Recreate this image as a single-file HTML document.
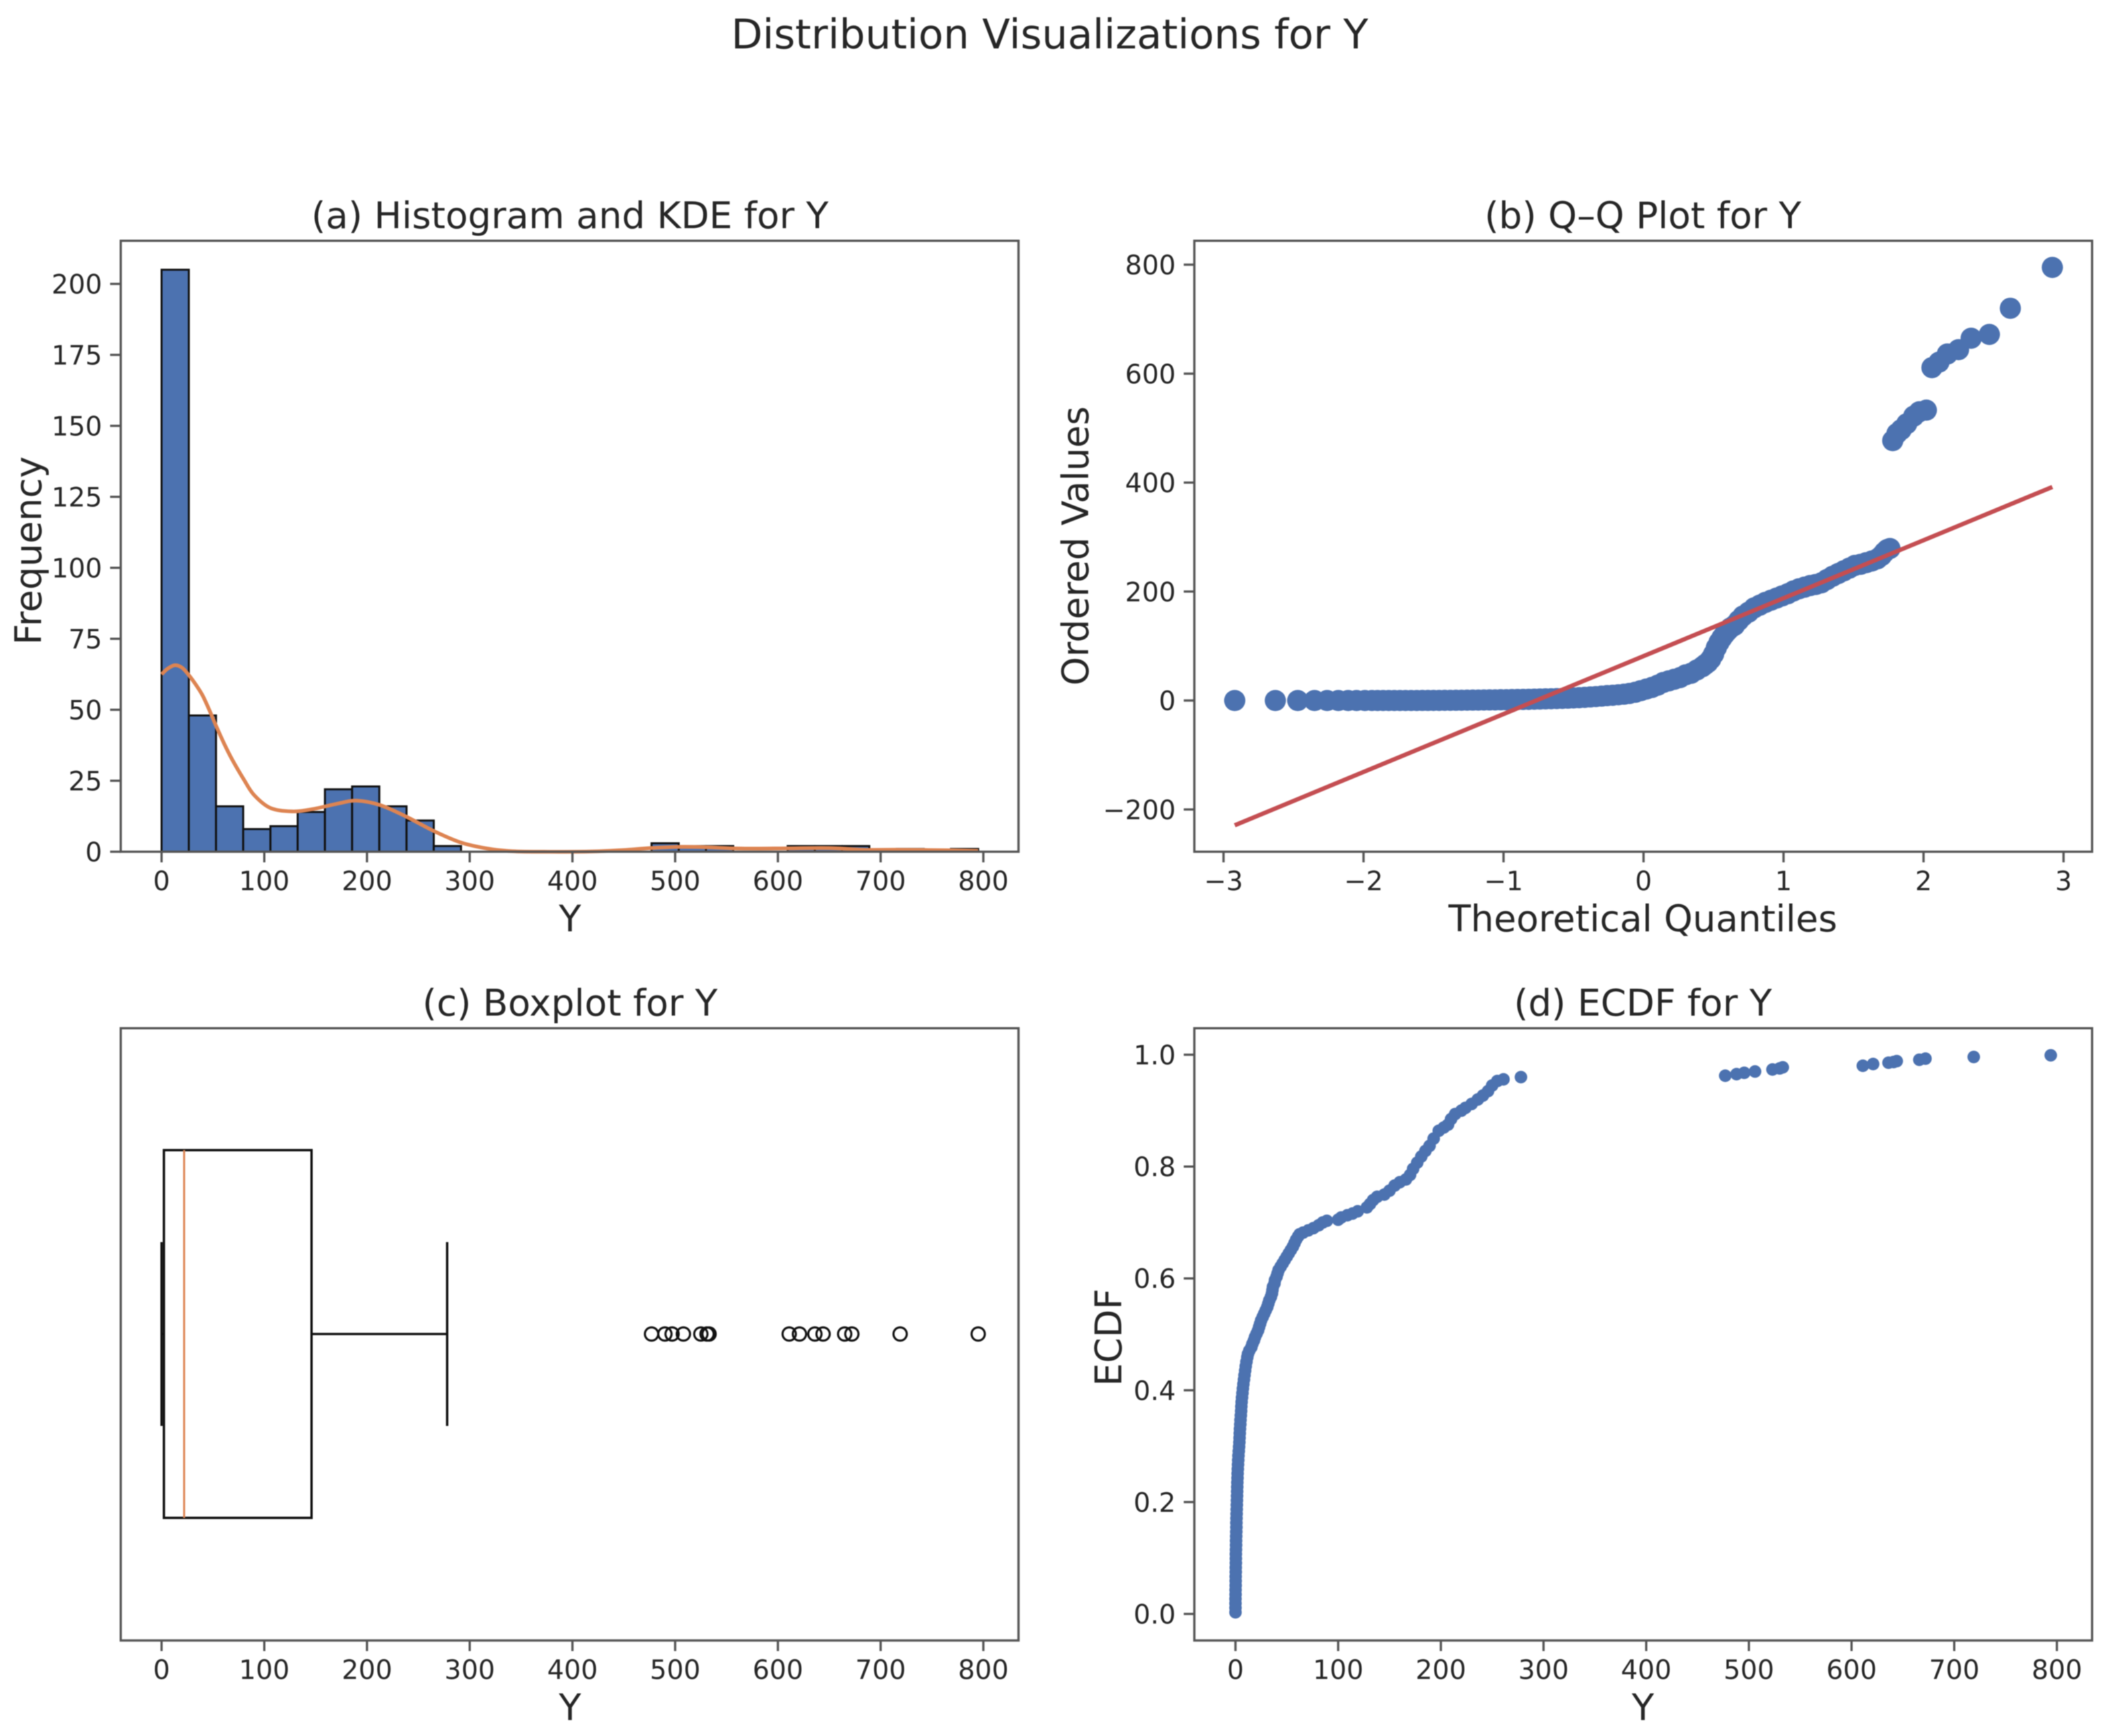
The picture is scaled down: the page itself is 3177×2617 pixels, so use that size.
<!DOCTYPE html>
<html lang="en">
<head>
<meta charset="utf-8">
<title>Distribution Visualizations for Y</title>
<style>
  html, body { margin: 0; padding: 0; background: #fff; }
  svg { display: block; filter: blur(0.7px); }
  text { font-family: "DejaVu Sans", "Liberation Sans", sans-serif; fill: #262626; }
  .tick-label { font-size: 40px; }
  .axis-label { font-size: 55px; }
  .panel-title { font-size: 55.3px; }
  .spine { fill: none; stroke: #555; stroke-width: 3.4; }
  .tick { stroke: #555; stroke-width: 3.4; }
</style>
</head>
<body>
<svg id="figure" xmlns="http://www.w3.org/2000/svg" width="3177" height="2617" viewBox="0 0 3177 2617">
  <rect x="0" y="0" width="3177" height="2617" fill="#fff"/>
  <text x="1582" y="73" text-anchor="middle" font-size="61.5">Distribution Visualizations for Y</text>

  <g id="panel-a">
    <text class="panel-title" x="859" y="344" text-anchor="middle">(a) Histogram and KDE for Y</text>
    <g id="a-marks"></g>
    <rect class="spine" x="182" y="363" width="1353" height="921"/>
    <g id="a-ticks"></g>
    <text class="axis-label" x="859" y="1404" text-anchor="middle">Y</text>
    <text class="axis-label" transform="translate(62,830) rotate(-90)" text-anchor="middle">Frequency</text>
  </g>

  <g id="panel-b">
    <text class="panel-title" x="2476" y="344" text-anchor="middle">(b) Q–Q Plot for Y</text>
    <g id="b-marks"></g>
    <rect class="spine" x="1800" y="363" width="1353" height="921"/>
    <g id="b-ticks"></g>
    <text class="axis-label" x="2476" y="1404" text-anchor="middle">Theoretical Quantiles</text>
    <text class="axis-label" transform="translate(1640,823) rotate(-90)" text-anchor="middle">Ordered Values</text>
  </g>

  <g id="panel-c">
    <text class="panel-title" x="859" y="1531" text-anchor="middle">(c) Boxplot for Y</text>
    <g id="c-marks"></g>
    <rect class="spine" x="182" y="1550" width="1353" height="923"/>
    <g id="c-ticks"></g>
    <text class="axis-label" x="859" y="2593" text-anchor="middle">Y</text>
  </g>

  <g id="panel-d">
    <text class="panel-title" x="2476" y="1531" text-anchor="middle">(d) ECDF for Y</text>
    <g id="d-marks"></g>
    <rect class="spine" x="1800" y="1550" width="1353" height="923"/>
    <g id="d-ticks"></g>
    <text class="axis-label" x="2476" y="2593" text-anchor="middle">Y</text>
    <text class="axis-label" transform="translate(1690,2016) rotate(-90)" text-anchor="middle">ECDF</text>
  </g>
</svg>

<script>
// ---------- Panel (a): histogram and KDE ----------
const histBinWidth = 26.5;
const histCounts = [205, 48, 16, 8, 9, 14, 22, 23, 16, 11, 2, 0, 0, 0, 0, 0, 0, 0, 3, 2, 2, 0, 0, 2, 2, 2, 0, 1, 0, 1];
const kdeX = [0, 6, 13, 20, 27, 34, 40, 47, 53, 61, 69, 80, 90, 106, 127, 147, 172, 190, 213, 238, 265, 291, 316, 341, 378, 419, 450, 476, 504, 530, 556, 582, 608, 650, 684, 718, 768, 795];
const kdeY = [62.5, 64.5, 65.7, 64.8, 62, 58.5, 55, 49.5, 44.4, 38, 32.3, 25.5, 20, 15.4, 14.2, 15, 17, 18, 16.4, 12.4, 7.3, 3.3, 1.2, 0.2, 0, 0.1, 0.6, 1.3, 1.7, 1.6, 1.2, 1.1, 1.2, 1.3, 0.7, 0.7, 0.5, 0.3];
const histXTicks = [0, 100, 200, 300, 400, 500, 600, 700, 800];
const histYTicks = [0, 25, 50, 75, 100, 125, 150, 175, 200];

// ---------- Panel (b): Q-Q plot ----------
const qqTheoretical = [
  -2.92, -2.63, -2.47, -2.35, -2.26, -2.18, -2.11, -2.05, -1.99, -1.94,
  -1.90, -1.86, -1.82, -1.78, -1.74, -1.70, -1.66, -1.62, -1.58, -1.54,
  -1.50, -1.46, -1.42, -1.38, -1.34, -1.30, -1.26, -1.22, -1.18, -1.14,
  -1.10, -1.06, -1.02, -0.98, -0.94, -0.90, -0.86, -0.82, -0.78, -0.74,
  -0.70, -0.66, -0.62, -0.58, -0.54, -0.50, -0.46, -0.42, -0.38, -0.34,
  -0.30, -0.26, -0.22, -0.18, -0.14, -0.10, -0.06, -0.02, 0.02, 0.06,
  0.10, 0.14, 0.18, 0.22, 0.26, 0.30, 0.34, 0.38, 0.42, 0.44,
  0.46, 0.48, 0.50, 0.52, 0.54, 0.56, 0.58, 0.60, 0.62, 0.65,
  0.68, 0.71, 0.75, 0.79, 0.83, 0.87, 0.91, 0.95, 0.99, 1.03,
  1.07, 1.11, 1.15, 1.19, 1.23, 1.27, 1.31, 1.35, 1.39, 1.43,
  1.47, 1.51, 1.55, 1.59, 1.63, 1.67, 1.70, 1.72, 1.74, 1.76,
  1.78, 1.81, 1.84, 1.88, 1.93, 1.97, 2.02, 2.06, 2.11, 2.17,
  2.25, 2.34, 2.47, 2.62, 2.92
];
const qqOrdered = [
  0, 0, 0, 0, 0, 0, 0, 0, 0, 0,
  0, 0, 0, 0, 0, 0, 0, 0, 0.1, 0.1,
  0.2, 0.2, 0.3, 0.3, 0.4, 0.5, 0.6, 0.7, 0.8, 0.9,
  1, 1.1, 1.3, 1.4, 1.6, 1.8, 2, 2.2, 2.4, 2.7,
  3, 3.2, 3.5, 3.8, 4.2, 4.7, 5.2, 5.8, 6.5, 7.2,
  8, 9, 9.6, 10.5, 11.5, 13, 15, 18, 21, 24,
  28, 33, 36, 39, 42, 47, 50, 56, 62, 66,
  70, 76, 85, 97, 107, 115, 122, 128, 133, 138,
  147, 155, 162, 170, 175, 180, 184, 188, 192, 196,
  201, 205, 208, 211, 213, 216, 222, 228, 233, 238,
  243, 248, 250, 253, 256, 260, 266, 272, 277, 279,
  477, 490, 497, 508, 522, 530, 533, 611, 621, 636,
  644, 665, 672, 720, 795
];
const qqLineX = [-2.92, 2.92];
const qqLineY = [-229, 392];
const qqXTicks = [-3, -2, -1, 0, 1, 2, 3];
const qqXLabels = ["−3", "−2", "−1", "0", "1", "2", "3"];
const qqYTicks = [-200, 0, 200, 400, 600, 800];
const qqYLabels = ["−200", "0", "200", "400", "600", "800"];

// ---------- Panel (c): boxplot ----------
const boxWhiskerLow = [0];
const boxQ1 = [2.3];
const boxMedian = [22];
const boxQ3 = [146];
const boxWhiskerHigh = [278];
const boxFliers = [477, 490, 497, 508, 525, 531, 533, 611, 621, 636, 644, 665, 672, 719, 795];
const boxXTicks = [0, 100, 200, 300, 400, 500, 600, 700, 800];

// ---------- Panel (d): ECDF ----------
const ecdfValues = [
  0, 0, 0, 0, 0.1, 0.1, 0.2, 0.2, 0.2, 0.3,
  0.3, 0.4, 0.4, 0.4, 0.5, 0.6, 0.6, 0.7, 0.8, 0.9,
  0.9, 1, 1.1, 1.2, 1.3, 1.4, 1.5, 1.6, 1.7, 1.8,
  2, 2.1, 2.3, 2.5, 2.7, 2.9, 3.2, 3.5, 3.8, 4,
  4.2, 4.4, 4.7, 4.9, 5.2, 5.5, 5.7, 6, 6.4, 6.8,
  7.2, 7.7, 8.3, 8.8, 9.4, 10, 10.7, 11.5, 12.2, 13.5,
  15.5, 16.5, 18, 19, 20.5, 22, 23, 24, 25, 26.5,
  28, 29.5, 31, 32, 33, 34.5, 35.5, 36, 36.5, 38,
  38.5, 40, 41, 42, 44, 46, 48, 50, 52, 54,
  56, 57.5, 59, 61, 62.5, 66, 71, 76, 81, 85,
  89, 100, 103, 109, 114, 119, 128, 131, 134, 138,
  145, 150, 155, 160, 166, 170, 173, 177, 181, 185,
  189, 193, 198, 203, 207, 210, 214, 220, 224, 230,
  236, 241, 246, 250, 255, 261, 278, 477, 488, 495.5,
  506, 523, 530, 533, 611, 621, 636, 641, 644, 666,
  672, 719, 794
];
const ecdfProb = [
  0.003, 0.011, 0.019, 0.027, 0.035, 0.043, 0.051, 0.059, 0.067, 0.075,
  0.083, 0.091, 0.099, 0.107, 0.115, 0.123, 0.131, 0.139, 0.147, 0.155,
  0.163, 0.171, 0.179, 0.187, 0.195, 0.203, 0.211, 0.219, 0.227, 0.235,
  0.243, 0.251, 0.259, 0.267, 0.275, 0.283, 0.291, 0.299, 0.307, 0.315,
  0.323, 0.331, 0.339, 0.347, 0.355, 0.363, 0.371, 0.379, 0.387, 0.395,
  0.403, 0.411, 0.419, 0.427, 0.435, 0.443, 0.451, 0.459, 0.465, 0.471,
  0.477, 0.483, 0.489, 0.495, 0.501, 0.507, 0.513, 0.519, 0.525, 0.531,
  0.537, 0.543, 0.549, 0.555, 0.561, 0.567, 0.573, 0.579, 0.585, 0.591,
  0.597, 0.603, 0.609, 0.615, 0.621, 0.627, 0.633, 0.639, 0.645, 0.651,
  0.657, 0.663, 0.669, 0.675, 0.679, 0.682, 0.686, 0.69, 0.695, 0.70,
  0.703, 0.705, 0.709, 0.713, 0.716, 0.72, 0.727, 0.733, 0.74, 0.746,
  0.75, 0.757, 0.766, 0.772, 0.777, 0.785, 0.796, 0.807, 0.818, 0.828,
  0.837, 0.85, 0.864, 0.87, 0.875, 0.885, 0.894, 0.90, 0.905, 0.912,
  0.92, 0.927, 0.935, 0.945, 0.953, 0.956, 0.96, 0.9625, 0.9653, 0.9677,
  0.97, 0.9736, 0.9755, 0.9775, 0.9803, 0.9834, 0.9858, 0.987, 0.9886, 0.991,
  0.993, 0.996, 0.999
];
const ecdfXTicks = [0, 100, 200, 300, 400, 500, 600, 700, 800];
const ecdfYTicks = [0, 0.2, 0.4, 0.6, 0.8, 1];
const ecdfYLabels = ["0.0", "0.2", "0.4", "0.6", "0.8", "1.0"];

// ---------- Helpers ----------
const SVG_NS = "http://www.w3.org/2000/svg";
const BLUE = "#4C72B0", ORANGE = "#DD8452", RED = "#C44E52";

function scale(d0, d1, r0, r1) {
  return function (v) { return r0 + (v - d0) * (r1 - r0) / (d1 - d0); };
}
function make(parent, tag, attrs) {
  const el = document.createElementNS(SVG_NS, tag);
  for (const k in attrs) el.setAttribute(k, attrs[k]);
  parent.appendChild(el);
  return el;
}
function line(parent, x1, y1, x2, y2, cls) {
  return make(parent, "line", { x1: x1, y1: y1, x2: x2, y2: y2, class: cls });
}
function smoothPath(pts) {
  let d = "M" + pts[0][0] + " " + pts[0][1];
  for (let i = 0; i < pts.length - 1; i++) {
    const p0 = pts[Math.max(i - 1, 0)], p1 = pts[i], p2 = pts[i + 1], p3 = pts[Math.min(i + 2, pts.length - 1)];
    d += " C" + (p1[0] + (p2[0] - p0[0]) / 6) + " " + (p1[1] + (p2[1] - p0[1]) / 6) +
         " " + (p2[0] - (p3[0] - p1[0]) / 6) + " " + (p2[1] - (p3[1] - p1[1]) / 6) +
         " " + p2[0] + " " + p2[1];
  }
  return d;
}
function drawXTicks(group, values, labels, sx, bottom) {
  values.forEach(function (v, i) {
    const t = line(group, sx(v), bottom, sx(v), bottom + 16, "tick");
    
    
    const lab = make(group, "text", { x: sx(v), y: bottom + 58, "text-anchor": "middle", class: "tick-label" });
    lab.textContent = labels[i];
    
    
  });
}
function drawYTicks(group, values, labels, sy, left) {
  values.forEach(function (v, i) {
    const t = line(group, left - 16, sy(v), left, sy(v), "tick");
    
    
    const lab = make(group, "text", { x: left - 28, y: sy(v) + 14.5, "text-anchor": "end", class: "tick-label" });
    lab.textContent = labels[i];
    
    
  });
}

// ---------- Draw panel (a) ----------
(function () {
  const marks = document.getElementById("a-marks");
  const ticks = document.getElementById("a-ticks");
  const sx = scale(0, 800, 243.5, 1482);
  const sy = scale(0, 200, 1284, 428);
  histCounts.forEach(function (c, i) {
    if (c <= 0) return;
    const x0 = sx(i * histBinWidth), x1 = sx((i + 1) * histBinWidth);
    const bar = make(marks, "rect", { x: x0, y: sy(c), width: x1 - x0, height: sy(0) - sy(c), fill: BLUE, stroke: "#111", "stroke-width": 3 });
    
    
  });
  const pts = kdeX.map(function (x, i) { return [sx(x), sy(kdeY[i])]; });
  const kde = make(marks, "path", { d: smoothPath(pts), fill: "none", stroke: ORANGE, "stroke-width": 5.6 });
  
  
  drawXTicks(ticks, histXTicks, histXTicks.map(String), sx, 1284);
  drawYTicks(ticks, histYTicks, histYTicks.map(String), sy, 182);
})();

// ---------- Draw panel (b) ----------
(function () {
  const marks = document.getElementById("b-marks");
  const ticks = document.getElementById("b-ticks");
  const sx = scale(0, 3, 2477, 3110);
  const sy = scale(0, 800, 1056, 399);
  const n = Math.min(qqTheoretical.length, qqOrdered.length);
  for (let i = 0; i < n; i++) {
    const dot = make(marks, "circle", { cx: sx(qqTheoretical[i]), cy: sy(qqOrdered[i]), r: 16, fill: BLUE });
    
    
  }
  const fit = make(marks, "line", { x1: sx(qqLineX[0]), y1: sy(qqLineY[0]), x2: sx(qqLineX[1]), y2: sy(qqLineY[1]), stroke: RED, "stroke-width": 6.5 });
  
  
  drawXTicks(ticks, qqXTicks, qqXLabels, sx, 1284);
  drawYTicks(ticks, qqYTicks, qqYLabels, sy, 1800);
})();

// ---------- Draw panel (c) ----------
(function () {
  const marks = document.getElementById("c-marks");
  const ticks = document.getElementById("c-ticks");
  const sx = scale(0, 800, 243.5, 1482);
  const sy = scale(0.5, 1.5, 2473, 1549);
  const BOX_WIDTH = 0.6, CAP_WIDTH = 0.3, POS = 1;
  const stroke = { stroke: "#111", "stroke-width": 3.6, fill: "none" };

  const box = make(marks, "rect", Object.assign({ x: sx(boxQ1[0]), y: sy(POS + BOX_WIDTH / 2), width: sx(boxQ3[0]) - sx(boxQ1[0]), height: sy(POS - BOX_WIDTH / 2) - sy(POS + BOX_WIDTH / 2) }, stroke));
  
  

  const med = make(marks, "line", { x1: sx(boxMedian[0]), x2: sx(boxMedian[0]), y1: sy(POS + BOX_WIDTH / 2), y2: sy(POS - BOX_WIDTH / 2), stroke: ORANGE, "stroke-width": 3 });
  
  

  const wl = make(marks, "line", Object.assign({ x1: sx(boxWhiskerLow[0]), x2: sx(boxQ1[0]), y1: sy(POS), y2: sy(POS) }, stroke));
  
  

  const wh = make(marks, "line", Object.assign({ x1: sx(boxQ3[0]), x2: sx(boxWhiskerHigh[0]), y1: sy(POS), y2: sy(POS) }, stroke));
  
  

  const cl = make(marks, "line", Object.assign({ x1: sx(boxWhiskerLow[0]), x2: sx(boxWhiskerLow[0]), y1: sy(POS + CAP_WIDTH / 2), y2: sy(POS - CAP_WIDTH / 2) }, stroke));
  
  

  const ch = make(marks, "line", Object.assign({ x1: sx(boxWhiskerHigh[0]), x2: sx(boxWhiskerHigh[0]), y1: sy(POS + CAP_WIDTH / 2), y2: sy(POS - CAP_WIDTH / 2) }, stroke));
  
  

  boxFliers.forEach(function (v) {
    const f = make(marks, "circle", { cx: sx(v), cy: sy(POS), r: 10, fill: "none", stroke: "#111", "stroke-width": 3.2 });
    
    
  });
  drawXTicks(ticks, boxXTicks, boxXTicks.map(String), sx, 2473);
})();

// ---------- Draw panel (d) ----------
(function () {
  const marks = document.getElementById("d-marks");
  const ticks = document.getElementById("d-ticks");
  const sx = scale(0, 800, 1862, 3100);
  const sy = scale(0, 1, 2433, 1590);
  const n = Math.min(ecdfValues.length, ecdfProb.length);
  for (let i = 0; i < n; i++) {
    const dot = make(marks, "circle", { cx: sx(ecdfValues[i]), cy: sy(ecdfProb[i]), r: 9.5, fill: BLUE });
    
    
  }
  drawXTicks(ticks, ecdfXTicks, ecdfXTicks.map(String), sx, 2473);
  drawYTicks(ticks, ecdfYTicks, ecdfYLabels, sy, 1800);
})();
</script>
</body>
</html>
